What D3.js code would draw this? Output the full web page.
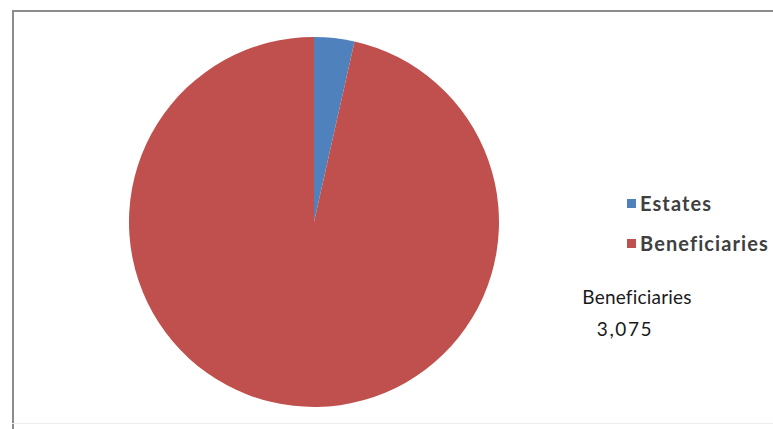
<!DOCTYPE html>
<html>
<head>
<meta charset="utf-8">
<script src="https://cdn.jsdelivr.net/npm/d3@7"></script>
<style>
  html, body { margin: 0; padding: 0; background: #fff; }
  svg { display: block; }
</style>
</head>
<body>
<svg id="chart" width="773" height="429"></svg>
<script>
// Data
const categories = ["Estates", "Beneficiaries"];
const values = [112, 3075];
const colors = ["#4F81BD", "#C0504D"];
const labelCategory = "Beneficiaries";

const svg = d3.select("#chart");
const W = 773, H = 429;

// Chart frame (top and left edges visible, bottom faint)
svg.append("line").attr("x1", 12).attr("y1", 11).attr("x2", W).attr("y2", 11)
  .attr("stroke", "#8c8c8c").attr("stroke-width", 2);
svg.append("line").attr("x1", 13).attr("y1", 10).attr("x2", 13).attr("y2", H)
  .attr("stroke", "#8c8c8c").attr("stroke-width", 2);
svg.append("line").attr("x1", 12).attr("y1", 423.5).attr("x2", W).attr("y2", 423.5)
  .attr("stroke", "#ececec").attr("stroke-width", 1);

// Pie
const cx = 314, cy = 222, r = 185;
const pie = d3.pie().sort(null).value(d => d.value);
const arcs = pie(categories.map((c, i) => ({ name: c, value: values[i], color: colors[i] })));
const arc = d3.arc().innerRadius(0).outerRadius(r);

const g = svg.append("g").attr("transform", `translate(${cx},${cy})`);
g.selectAll("path").data(arcs).join("path")
  .attr("d", arc)
  .attr("fill", d => d.data.color);

// Legend
const legend = svg.append("g").attr("transform", "translate(627,0)");
const legendY = d3.scalePoint().domain(categories).range([204, 244]);
categories.forEach((c, i) => {
  legend.append("rect")
    .attr("x", 0).attr("y", legendY(c) - 5)
    .attr("width", 9).attr("height", 9)
    .attr("fill", colors[i]);
  legend.append("text")
    .attr("x", 13).attr("y", legendY(c) + 7)
    .attr("font-family", "Lato, 'Open Sans', sans-serif")
    .attr("font-weight", "bold")
    .attr("font-size", 20)
    .attr("letter-spacing", 1.1)
    .attr("fill", "#404040")
    .text(c);
});

// Data label
const li = categories.indexOf(labelCategory);
const label = svg.append("g").attr("font-family", "Lato, 'Open Sans', sans-serif")
  .attr("fill", "#1a1a1a").attr("text-anchor", "middle");
label.append("text").attr("x", 637).attr("y", 304)
  .attr("font-size", 19).attr("letter-spacing", 0.2).text(labelCategory);
label.append("text").attr("x", 625).attr("y", 336)
  .attr("font-size", 19).attr("letter-spacing", 1.6).text(d3.format(",")(values[li]));
</script>
</body>
</html>
